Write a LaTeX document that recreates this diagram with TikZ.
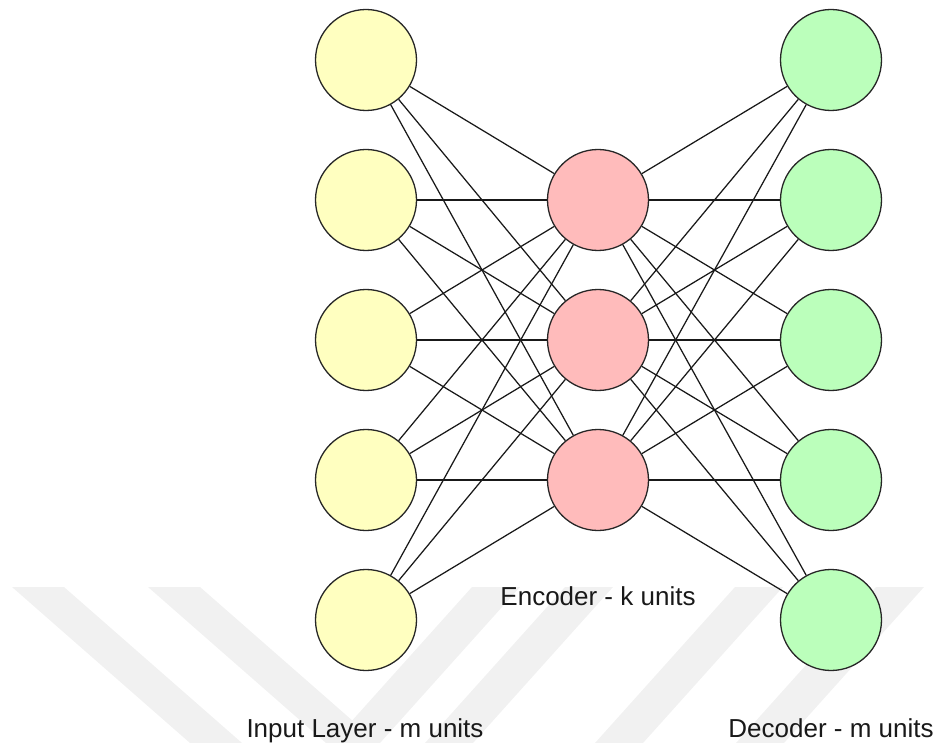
\documentclass[tikz,border=0pt]{standalone}
\usepackage{fontspec}
\setmainfont{Liberation Sans}
\definecolor{inyellow}{RGB}{255,255,192}
\definecolor{encred}{RGB}{255,187,187}
\definecolor{decgreen}{RGB}{187,255,187}
\definecolor{wmgray}{RGB}{241,241,241}
\begin{document}
\begin{tikzpicture}[x=1pt,y=-1pt,
  neuron/.style={circle,draw=black!85,line width=1.3pt,minimum size=101pt,inner sep=0pt},
  inneuron/.style={neuron,fill=inyellow},
  encneuron/.style={neuron,fill=encred},
  decneuron/.style={neuron,fill=decgreen},
  link/.style={draw=black!90,line width=1.25pt},
  caption/.style={anchor=base,inner sep=0pt,font=\fontsize{26}{30}\selectfont,text=black!90},
  wm/.style={fill=wmgray,draw=none}]
\useasboundingbox (0,0) rectangle (937,743);
% watermark bands
\fill[wm] (12,587) -- (64,587) -- (242,743) -- (190,743) -- cycle;
\fill[wm] (148,587) -- (200,587) -- (378,743) -- (326,743) -- cycle;
\fill[wm] (472,587) -- (520,587) -- (380,743) -- (332,743) -- cycle;
\fill[wm] (565,587) -- (613,587) -- (473,743) -- (425,743) -- cycle;
\fill[wm] (735,587) -- (783,587) -- (643,743) -- (595,743) -- cycle;
\fill[wm] (876,587) -- (924,587) -- (784,743) -- (736,743) -- cycle;
% nodes
\foreach \i/\y in {1/60,2/200,3/340,4/480,5/620}{
  \node[inneuron] (in\i) at (366,\y) {};
  \node[decneuron] (de\i) at (831,\y) {};
}
\foreach \j/\y in {1/200,2/340,3/480}{
  \node[encneuron] (en\j) at (598,\y) {};
}
% connections
\foreach \i in {1,...,5}{
  \foreach \j in {1,2,3}{
    \draw[link] (in\i) -- (en\j);
    \draw[link] (en\j) -- (de\i);
  }
}
% labels
\node[caption] (lin) at (365,737) {Input Layer - m units};
\node[caption] (lenc) at (598,605) {Encoder - k units};
\node[caption] (ldec) at (831,737) {Decoder - m units};
\end{tikzpicture}
\end{document}
